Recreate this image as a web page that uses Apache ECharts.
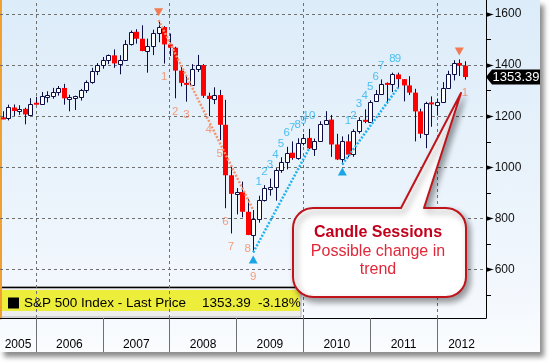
<!DOCTYPE html>
<html><head><meta charset="utf-8">
<script src="https://cdn.jsdelivr.net/npm/echarts@6/dist/echarts.min.js"></script>
<style>
html,body{margin:0;padding:0;background:#fff;}
#c{position:absolute;left:0;top:0;width:540px;height:352px;
 background:linear-gradient(to bottom,#dcecf9 0%,#e8f2fb 45%,#f2f7fd 80%,#fafcfe 100%);
 box-shadow:4px 5px 5px rgba(0,0,0,0.45);}
</style></head><body><div id="c"></div>
<script>
// ---------------- data ----------------
const months = [
 '2005-06','2005-07','2005-08','2005-09','2005-10','2005-11','2005-12',
 '2006-01','2006-02','2006-03','2006-04','2006-05','2006-06','2006-07','2006-08','2006-09','2006-10','2006-11','2006-12',
 '2007-01','2007-02','2007-03','2007-04','2007-05','2007-06','2007-07','2007-08','2007-09','2007-10','2007-11','2007-12',
 '2008-01','2008-02','2008-03','2008-04','2008-05','2008-06','2008-07','2008-08','2008-09','2008-10','2008-11','2008-12',
 '2009-01','2009-02','2009-03','2009-04','2009-05','2009-06','2009-07','2009-08','2009-09','2009-10','2009-11','2009-12',
 '2010-01','2010-02','2010-03','2010-04','2010-05','2010-06','2010-07','2010-08','2010-09','2010-10','2010-11','2010-12',
 '2011-01','2011-02','2011-03','2011-04','2011-05','2011-06','2011-07','2011-08','2011-09','2011-10','2011-11','2011-12',
 '2012-01','2012-02','2012-03','2012-04','2012-05'];
const open = [
 1191.5,1191.3,1234.2,1220.3,1228.8,1207.0,1249.5,
 1248.3,1280.1,1280.7,1294.9,1310.6,1270.1,1270.2,1276.7,1303.8,1335.9,1377.9,1400.6,
 1418.3,1438.2,1406.8,1420.9,1482.4,1530.6,1503.4,1455.3,1474.0,1526.8,1549.4,1481.1,
 1468.4,1378.6,1330.6,1322.7,1385.6,1400.4,1280.0,1267.4,1282.8,1166.4,968.8,896.2,
 903.3,825.9,735.1,797.9,872.8,919.1,919.3,987.5,1020.6,1057.1,1036.2,1095.6,
 1115.1,1073.9,1104.5,1169.4,1186.7,1089.4,1030.7,1101.6,1049.3,1141.2,1183.3,1180.6,
 1257.6,1286.1,1327.2,1325.8,1363.6,1345.2,1320.6,1292.3,1218.9,1131.4,1253.3,1247.0,
 1257.6,1312.4,1365.7,1408.5,1397.9];
const high = [
 1219.6,1245.2,1245.9,1243.1,1233.3,1270.6,1275.8,
 1294.9,1297.6,1310.9,1318.2,1326.7,1284.0,1280.4,1306.7,1340.3,1389.5,1407.9,1431.8,
 1441.6,1461.6,1438.9,1498.0,1535.6,1540.6,1555.9,1503.9,1538.7,1576.1,1552.8,1523.6,
 1471.8,1396.0,1359.7,1404.0,1440.2,1404.1,1292.2,1313.2,1303.0,1264.3,1007.5,918.9,
 943.9,875.0,833.0,888.7,930.2,956.2,996.7,1039.5,1080.2,1101.4,1113.7,1130.4,
 1150.5,1112.4,1180.2,1219.8,1205.1,1131.2,1121.0,1129.2,1148.9,1196.1,1227.1,1262.6,
 1302.7,1344.1,1332.3,1370.6,1370.6,1345.2,1356.5,1307.4,1229.3,1256.6,1277.6,1269.4,
 1333.5,1378.0,1419.2,1422.4,1415.3];
const low = [
 1188.3,1183.6,1201.1,1205.4,1168.2,1201.1,1246.6,
 1245.7,1253.6,1268.4,1280.7,1245.3,1219.3,1224.5,1261.3,1290.9,1327.1,1361.0,1385.9,
 1404.0,1389.4,1364.0,1416.4,1476.7,1484.2,1454.3,1370.6,1439.3,1489.6,1406.1,1435.7,
 1270.1,1316.8,1257.0,1318.0,1373.1,1272.0,1200.4,1247.5,1106.4,839.8,741.0,815.7,
 804.2,734.5,666.8,783.3,866.1,888.9,869.3,978.5,992.0,1029.4,1029.4,1085.9,
 1071.6,1044.5,1101.4,1167.0,1040.8,1028.3,1010.9,1039.7,1040.9,1131.9,1173.0,1173.6,
 1257.6,1282.9,1249.1,1294.7,1311.8,1258.1,1282.9,1101.5,1114.2,1074.8,1158.7,1202.4,
 1257.6,1310.0,1340.0,1357.4,1343.1];
const close = [
 1191.3,1234.2,1220.3,1228.8,1207.0,1249.5,1248.3,
 1280.1,1280.7,1294.9,1310.6,1270.1,1270.2,1276.7,1303.8,1335.9,1377.9,1400.6,1418.3,
 1438.2,1406.8,1420.9,1482.4,1530.6,1503.4,1455.3,1474.0,1526.8,1549.4,1481.1,1468.4,
 1378.6,1330.6,1322.7,1385.6,1400.4,1280.0,1267.4,1282.8,1166.4,968.8,896.2,903.3,
 825.9,735.1,797.9,872.8,919.1,919.3,987.5,1020.6,1057.1,1036.2,1095.6,1115.1,
 1073.9,1104.5,1169.4,1186.7,1089.4,1030.7,1101.6,1049.3,1141.2,1183.3,1180.6,1257.6,
 1286.1,1327.2,1325.8,1363.6,1345.2,1320.6,1292.3,1218.9,1131.4,1253.3,1247.0,1257.6,
 1312.4,1365.7,1408.5,1397.9,1353.39];

const seriesName = 'S&P 500 Index - Last Price';
const yearLabels = ['2005','2006','2007','2008','2009','2010','2011','2012'];
const yTicks = [600, 800, 1000, 1200, 1400, 1600];
const gridYears = [2006, 2008, 2010, 2012];

const sellCountMonths = ['2007-11','2008-01','2008-03','2008-07','2008-09','2008-10','2008-11','2009-02','2009-03','2012-05'];
const sellCountText   = ['1','2','3','4','5','6','7','8','9','1'];
const buyCountMonths  = ['2009-04','2009-05','2009-06','2009-07','2009-08','2009-09','2009-10','2009-11','2009-12','2010-01',
                         '2010-08','2010-09','2010-10','2010-11','2010-12','2011-01','2011-02','2011-04','2011-05'];
const buyCountText    = ['1','2','3','4','5','6','7','8','9','10',
                         '1','2','3','4','5','6','7','8','9'];
const sellSignalMonths = ['2007-10','2012-04'];
const buySignalMonths  = ['2009-03','2010-07'];
const sellLine = ['2007-10','2009-03'];
const buyLines = [['2009-03','2010-01'],['2010-07','2011-05']];

const calloutTitle = 'Candle Sessions';
const calloutBody = ['Possible change in', 'trend'];

// ---------------- helpers ----------------
const X_MIN = 2005.461, X_MAX = 2012.733, Y_MIN = 410, Y_MAX = 1655;
const pos = m => { const [y, mo] = m.split('-').map(Number); return y + mo / 12; };
const idx = m => months.indexOf(m);
const candleData = months.map((m, i) => [pos(m), open[i], close[i], low[i], high[i]]);
const n = close.length;
const lastClose = close[n - 1];
const pct = ((close[n - 1] / close[n - 2] - 1) * 100).toFixed(2);

const labelPos = yearLabels.map(y => (Math.max(X_MIN, +y) + Math.min(X_MAX, +y + 1)) / 2);
const tickYears = yearLabels.slice(1).map(Number);
const minorTicks = yTicks.map(v => v - 100);

const ORANGE = '#f4875c', BLUE = '#27b2ee', NAVY = '#0d0d45';
const FONT = 'Liberation Sans';

function renderCandle(params, api) {
  const x = api.value(0), o = api.value(1), c = api.value(2), l = api.value(3), h = api.value(4);
  const pO = api.coord([x, o]), pC = api.coord([x, c]), pH = api.coord([x, h]), pL = api.coord([x, l]);
  const cx = Math.round(pO[0]) + 0.5;
  const up = c >= o;
  let top = Math.min(pO[1], pC[1]), bot = Math.max(pO[1], pC[1]);
  if (bot - top < 2) { const mid = (top + bot) / 2; top = mid - 1; bot = mid + 1; }
  const wick = { type: 'line', shape: { x1: cx, y1: pH[1], x2: cx, y2: pL[1] }, style: { stroke: NAVY, lineWidth: 1 } };
  const body = up
    ? { type: 'rect', shape: { x: cx - 2, y: Math.round(top) + 0.5, width: 4, height: Math.max(1, Math.round(bot - top)) },
        style: { fill: '#ffffff', stroke: NAVY, lineWidth: 1 } }
    : { type: 'rect', shape: { x: cx - 2.5, y: top, width: 5, height: bot - top }, style: { fill: '#ff0000' } };
  return { type: 'group', children: [wick, body] };
}

// callout outline (rounded box with a pointer)
function calloutPoints(x0, y0, x1, y1, r, bl, tip, br) {
  const pts = [];
  const arc = (cx, cy, a0, a1) => { for (let k = 0; k <= 8; k++) { const a = a0 + (a1 - a0) * k / 8; pts.push([cx + r * Math.cos(a), cy + r * Math.sin(a)]); } };
  pts.push([x0 + r, y0], [bl, y0], tip, [br, y0], [x1 - r, y0]);
  arc(x1 - r, y0 + r, -Math.PI / 2, 0);
  arc(x1 - r, y1 - r, 0, Math.PI / 2);
  arc(x0 + r, y1 - r, Math.PI / 2, Math.PI);
  arc(x0 + r, y0 + r, Math.PI, Math.PI * 1.5);
  return pts;
}

const chart = echarts.init(document.getElementById('c'), null, { renderer: 'canvas' });
const option = {
  animation: false,
  textStyle: { fontFamily: FONT },
  grid: { left: 0, top: 0, width: 486, height: 318, containLabel: false },
  legend: {
    left: 8, top: 296, padding: 0, itemWidth: 11, itemHeight: 11, selectedMode: false,
    data: [{ name: seriesName, icon: 'rect', itemStyle: { color: '#000', borderWidth: 0 } }],
    formatter: name => `{n|${name}}{v|${lastClose.toFixed(2)}}{p|${pct}%}`,
    textStyle: {
      fontFamily: FONT, fontSize: 13.5, color: '#000',
      rich: {
        n: { width: 178, fontSize: 13.5, fontFamily: FONT, color: '#000', lineHeight: 15 },
        v: { width: 56, fontSize: 13.5, fontFamily: FONT, color: '#000', lineHeight: 15 },
        p: { fontSize: 13.5, fontFamily: FONT, color: '#000', lineHeight: 15 }
      }
    }
  },
  xAxis: {
    type: 'value', min: X_MIN, max: X_MAX,
    axisLine: { show: true, lineStyle: { color: '#000', width: 1 } },
    splitLine: { show: false },
    axisTick: { show: true, customValues: tickYears, length: 34, lineStyle: { color: '#707070' } },
    axisLabel: {
      customValues: labelPos, margin: 21, fontSize: 12, color: '#000', fontFamily: FONT,
      formatter: v => { const i = labelPos.findIndex(p => Math.abs(p - v) < 1e-6); return i >= 0 ? yearLabels[i] : ''; }
    }
  },
  yAxis: [{
    type: 'value', position: 'right', min: Y_MIN, max: Y_MAX,
    axisLine: { show: true, lineStyle: { color: '#000', width: 1 } },
    splitLine: { show: false },
    axisTick: { show: true, customValues: minorTicks, length: 5, lineStyle: { color: '#000' } },
    axisLabel: {
      customValues: yTicks, margin: 0,
      formatter: v => '{t|►}{v|' + v + '}',
      rich: {
        t: { fontSize: 10, color: '#000', fontFamily: 'DejaVu Sans' },
        v: { fontSize: 12, color: '#111', fontFamily: FONT, padding: [0, 0, 0, 1] }
      }
    }
  }, {
    type: 'value', position: 'left', min: Y_MIN, max: Y_MAX,
    axisLine: { show: true, lineStyle: { color: '#f0a030', width: 3 } },
    axisTick: { show: false }, axisLabel: { show: false }, splitLine: { show: false }
  }],
  graphic: [
    { type: 'rect', z: 0, shape: { x: 1, y: 287, width: 300, height: 30 }, style: { fill: '#ededed', stroke: '#b0b0b0', lineWidth: 1 } },
    { type: 'rect', z: 0, shape: { x: 1, y: 290, width: 299, height: 21 }, style: { fill: '#eded3c' } },
    { type: 'line', z: 0, shape: { x1: 1, y1: 287.5, x2: 301, y2: 287.5 }, style: { stroke: '#000', lineWidth: 1.5 } },
    { type: 'polygon', zlevel: 1, z: 100, shape: { points: calloutPoints(293, 208, 466, 297, 20, 401, [461, 93], 424) },
      style: { fill: '#ffffff', stroke: '#c0141c', lineWidth: 2, lineJoin: 'round',
               shadowBlur: 6, shadowOffsetX: 3, shadowOffsetY: 4, shadowColor: 'rgba(0,0,0,0.4)' } },
    { type: 'text', zlevel: 1, z: 101, style: { text: calloutTitle, x: 378, y: 233, align: 'center', verticalAlign: 'middle',
      font: 'bold 16px "Liberation Sans"', fill: '#c2001c' } },
    { type: 'text', zlevel: 1, z: 101, style: { text: calloutBody[0], x: 378, y: 252, align: 'center', verticalAlign: 'middle',
      font: '16px "Liberation Sans"', fill: '#e0283a' } },
    { type: 'text', zlevel: 1, z: 101, style: { text: calloutBody[1], x: 378, y: 270, align: 'center', verticalAlign: 'middle',
      font: '16px "Liberation Sans"', fill: '#e0283a' } }
  ],
  series: [
    {
      name: seriesName, type: 'custom', z: 10, renderItem: renderCandle, clip: true,
      itemStyle: { color: '#000' },
      encode: { x: 0, y: [1, 2, 3, 4] },
      data: candleData,
      markLine: {
        silent: true, symbol: ['none', 'none'], label: { show: false }, animation: false,
        lineStyle: { color: '#707070', type: [3, 3], width: 1 },
        data: [...yTicks.map(v => ({ yAxis: v })), ...gridYears.map(v => ({ xAxis: v }))]
      }
    },
    {
      type: 'line', z: 11, showSymbol: false, silent: true,
      lineStyle: { color: '#f4956e', width: 2.5, type: [2, 1.6] },
      data: [[pos(sellLine[0]), high[idx(sellLine[0])]], [pos(sellLine[1]), high[idx(sellLine[1])]]]
    },
    ...buyLines.map(bl => ({
      type: 'line', z: 11, showSymbol: false, silent: true,
      lineStyle: { color: '#1fb2f0', width: 2.5, type: [2, 1.6] },
      data: [[pos(bl[0]), low[idx(bl[0])]], [pos(bl[1]), low[idx(bl[1])]]]
    })),
    {
      type: 'scatter', z: 12, silent: true, clip: false, symbol: 'circle', symbolSize: 1,
      itemStyle: { color: 'rgba(0,0,0,0)' },
      data: sellCountMonths.map((m, i) => ({
        value: [pos(m), low[idx(m)]],
        label: { distance: buySignalMonths.includes(m) ? 18 : 7 }
      })),
      label: { show: true, position: 'bottom', color: ORANGE, fontSize: 11.5, fontFamily: FONT,
               formatter: p => sellCountText[p.dataIndex] }
    },
    {
      type: 'scatter', z: 12, silent: true, clip: false, symbol: 'circle', symbolSize: 1,
      itemStyle: { color: 'rgba(0,0,0,0)' },
      data: buyCountMonths.map(m => [pos(m), high[idx(m)]]),
      label: { show: true, position: 'top', distance: 7, color: BLUE, fontSize: 11.5, fontFamily: FONT,
               formatter: p => buyCountText[p.dataIndex] }
    },
    {
      type: 'scatter', z: 12, silent: true, clip: false, symbol: 'triangle', symbolSize: [9, 8],
      symbolRotate: 180, symbolOffset: [0, -8],
      itemStyle: { color: '#f47a52', opacity: 1 },
      data: sellSignalMonths.map(m => [pos(m), high[idx(m)]])
    },
    {
      type: 'scatter', z: 12, silent: true, clip: false, symbol: 'triangle', symbolSize: [9, 8],
      symbolOffset: [0, 7],
      itemStyle: { color: '#1aa6e6', opacity: 1 },
      data: buySignalMonths.map(m => [pos(m), low[idx(m)]])
    },
    {
      type: 'scatter', z: 12, silent: true, clip: false,
      symbol: 'path://M0,7.5L6,0L54,0L54,15L6,15Z', symbolSize: [54, 15], symbolOffset: [27, 0],
      itemStyle: { color: '#000', opacity: 1 },
      data: [[X_MAX, lastClose]],
      label: { show: true, position: 'inside', offset: [3, 0], color: '#fff', fontSize: 13, fontFamily: FONT,
               formatter: () => lastClose.toFixed(2) }
    }
  ]
};
chart.setOption(option);
</script>
</body></html>
